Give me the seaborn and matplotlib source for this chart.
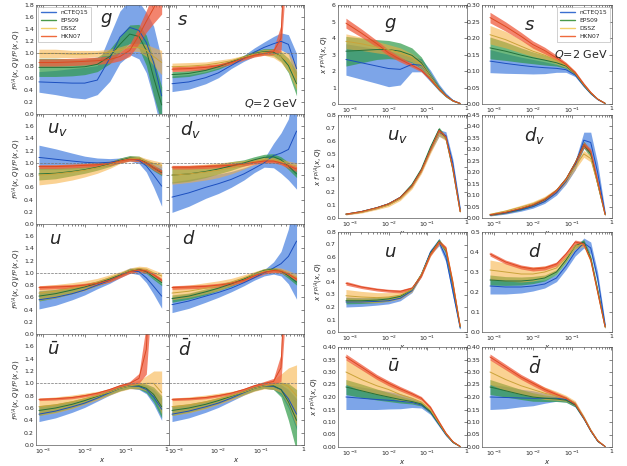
import numpy as np
import matplotlib
matplotlib.use("Agg")
import matplotlib.pyplot as plt
import seaborn as sns
from matplotlib.lines import Line2D
from matplotlib.ticker import LogLocator, NullFormatter

# x grid shared by every curve
X = [8e-4, 2e-3, 5e-3, 1e-2, 2e-2, 4e-2, 0.07, 0.12, 0.2, 0.3, 0.45, 0.7]
SETS = ["nCTEQ15", "EPS09", "DSSZ", "HKN07"]

# ---- ratio panels f^{p/A}/f^p : rows = nCTEQ15, EPS09, DSSZ, HKN07 ----
ratio_g_mid = [[0.53, 0.52, 0.51, 0.51, 0.56, 0.92, 1.27, 1.43, 1.38, 1.18, 0.85, 0.30],
               [0.77, 0.77, 0.77, 0.78, 0.82, 0.95, 1.15, 1.32, 1.28, 1.05, 0.60, 0.15],
               [1.00, 1.00, 0.99, 0.99, 1.00, 1.02, 1.06, 1.10, 1.10, 1.05, 0.95, 0.85],
               [0.85, 0.85, 0.86, 0.87, 0.88, 0.90, 0.95, 1.05, 1.30, 1.53, 1.75, 2.00]]
ratio_g_err = [[0.17, 0.20, 0.24, 0.26, 0.24, 0.38, 0.43, 0.45, 0.47, 0.50, 0.60, 0.60],
               [0.15, 0.15, 0.14, 0.13, 0.12, 0.12, 0.13, 0.15, 0.20, 0.25, 0.30, 0.30],
               [0.07, 0.07, 0.06, 0.06, 0.05, 0.05, 0.05, 0.06, 0.07, 0.10, 0.15, 0.20],
               [0.06, 0.06, 0.06, 0.06, 0.06, 0.06, 0.07, 0.10, 0.14, 0.18, 0.25, 0.35]]

ratio_s_mid = [[0.50, 0.53, 0.60, 0.68, 0.80, 0.92, 1.02, 1.10, 1.16, 1.20, 1.15, 0.75],
               [0.65, 0.67, 0.72, 0.78, 0.86, 0.94, 1.00, 1.03, 1.02, 0.95, 0.80, 0.50],
               [0.78, 0.79, 0.81, 0.84, 0.88, 0.94, 0.99, 1.02, 1.00, 0.95, 0.85, 0.60],
               [0.74, 0.75, 0.77, 0.80, 0.85, 0.92, 0.97, 1.00, 1.03, 1.25, 4.00, 6.00]]
ratio_s_err = [[0.13, 0.12, 0.10, 0.08, 0.05, 0.05, 0.07, 0.09, 0.12, 0.14, 0.16, 0.25],
               [0.05, 0.05, 0.04, 0.04, 0.03, 0.03, 0.04, 0.05, 0.06, 0.08, 0.12, 0.20],
               [0.06, 0.06, 0.05, 0.05, 0.04, 0.03, 0.04, 0.05, 0.07, 0.10, 0.15, 0.20],
               [0.04, 0.04, 0.04, 0.03, 0.03, 0.03, 0.03, 0.03, 0.05, 0.22, 1.20, 1.50]]

ratio_uv_mid = [[1.09, 1.06, 1.03, 1.01, 1.00, 1.01, 1.04, 1.07, 1.04, 0.95, 0.80, 0.62],
                [0.82, 0.83, 0.86, 0.89, 0.93, 0.98, 1.04, 1.08, 1.07, 1.00, 0.92, 0.84],
                [0.80, 0.82, 0.85, 0.88, 0.92, 0.97, 1.03, 1.07, 1.07, 1.03, 0.99, 0.96],
                [0.94, 0.94, 0.95, 0.96, 0.97, 0.99, 1.03, 1.06, 1.05, 1.00, 0.92, 0.85]]
ratio_uv_err = [[0.20, 0.17, 0.13, 0.10, 0.08, 0.06, 0.04, 0.04, 0.05, 0.10, 0.20, 0.33],
                [0.10, 0.09, 0.07, 0.06, 0.05, 0.04, 0.04, 0.04, 0.04, 0.04, 0.05, 0.05],
                [0.16, 0.15, 0.13, 0.11, 0.09, 0.06, 0.04, 0.04, 0.04, 0.04, 0.05, 0.05],
                [0.03, 0.03, 0.03, 0.03, 0.03, 0.03, 0.03, 0.03, 0.03, 0.03, 0.04, 0.04]]

ratio_dv_mid = [[0.44, 0.51, 0.60, 0.66, 0.73, 0.82, 0.91, 1.00, 1.12, 1.16, 1.22, 1.52],
                [0.80, 0.82, 0.86, 0.90, 0.95, 1.00, 1.05, 1.09, 1.10, 1.05, 0.95, 0.82],
                [0.80, 0.82, 0.85, 0.88, 0.92, 0.97, 1.02, 1.05, 1.05, 1.02, 0.98, 0.95],
                [0.93, 0.93, 0.94, 0.95, 0.96, 0.98, 1.01, 1.03, 1.03, 1.00, 0.95, 0.90]]
ratio_dv_err = [[0.25, 0.22, 0.18, 0.16, 0.13, 0.10, 0.07, 0.07, 0.20, 0.33, 0.50, 0.95],
                [0.13, 0.12, 0.10, 0.08, 0.07, 0.05, 0.05, 0.05, 0.05, 0.05, 0.06, 0.06],
                [0.15, 0.14, 0.13, 0.12, 0.10, 0.07, 0.05, 0.04, 0.04, 0.04, 0.05, 0.05],
                [0.03, 0.03, 0.03, 0.03, 0.03, 0.03, 0.03, 0.03, 0.03, 0.03, 0.04, 0.04]]

ratio_u_mid = [[0.56, 0.60, 0.66, 0.72, 0.80, 0.88, 0.96, 1.04, 1.02, 0.92, 0.78, 0.62],
               [0.62, 0.66, 0.72, 0.77, 0.83, 0.90, 0.97, 1.04, 1.06, 1.02, 0.93, 0.84],
               [0.67, 0.70, 0.75, 0.79, 0.85, 0.92, 0.98, 1.04, 1.07, 1.06, 1.00, 0.95],
               [0.76, 0.77, 0.78, 0.80, 0.83, 0.88, 0.95, 1.02, 1.05, 1.03, 0.97, 0.88]]
ratio_u_err = [[0.15, 0.13, 0.10, 0.08, 0.06, 0.05, 0.04, 0.04, 0.05, 0.08, 0.13, 0.20],
               [0.08, 0.07, 0.06, 0.05, 0.04, 0.04, 0.03, 0.03, 0.03, 0.03, 0.04, 0.05],
               [0.12, 0.11, 0.09, 0.08, 0.06, 0.05, 0.04, 0.04, 0.04, 0.04, 0.05, 0.05],
               [0.03, 0.03, 0.03, 0.03, 0.03, 0.03, 0.03, 0.03, 0.03, 0.03, 0.03, 0.03]]

ratio_d_mid = [[0.48, 0.54, 0.62, 0.68, 0.75, 0.84, 0.92, 1.00, 1.08, 1.15, 1.27, 1.52],
               [0.58, 0.62, 0.69, 0.75, 0.82, 0.90, 0.98, 1.04, 1.06, 1.03, 0.95, 0.85],
               [0.67, 0.70, 0.75, 0.79, 0.85, 0.92, 0.98, 1.03, 1.05, 1.04, 0.99, 0.93],
               [0.76, 0.77, 0.78, 0.80, 0.83, 0.88, 0.95, 1.01, 1.04, 1.03, 0.98, 0.90]]
ratio_d_err = [[0.13, 0.12, 0.10, 0.08, 0.06, 0.05, 0.04, 0.05, 0.10, 0.20, 0.45, 0.95],
               [0.06, 0.05, 0.05, 0.04, 0.04, 0.03, 0.03, 0.03, 0.03, 0.03, 0.04, 0.05],
               [0.11, 0.10, 0.09, 0.08, 0.06, 0.05, 0.04, 0.04, 0.04, 0.04, 0.05, 0.05],
               [0.03, 0.03, 0.03, 0.03, 0.03, 0.03, 0.03, 0.03, 0.03, 0.03, 0.03, 0.03]]

ratio_ub_mid = [[0.50, 0.55, 0.62, 0.68, 0.76, 0.85, 0.92, 0.96, 0.95, 0.90, 0.78, 0.58],
                [0.56, 0.60, 0.66, 0.72, 0.79, 0.86, 0.92, 0.96, 0.96, 0.92, 0.82, 0.62],
                [0.62, 0.65, 0.70, 0.75, 0.80, 0.86, 0.92, 0.96, 0.98, 1.00, 1.00, 0.85],
                [0.74, 0.75, 0.77, 0.80, 0.84, 0.90, 0.96, 1.00, 1.08, 1.55, 4.00, 6.00]]
ratio_ub_err = [[0.12, 0.11, 0.09, 0.07, 0.05, 0.04, 0.04, 0.04, 0.05, 0.07, 0.12, 0.18],
                [0.08, 0.07, 0.06, 0.05, 0.04, 0.04, 0.04, 0.04, 0.05, 0.07, 0.12, 0.18],
                [0.14, 0.13, 0.11, 0.09, 0.07, 0.05, 0.05, 0.05, 0.07, 0.12, 0.20, 0.35],
                [0.02, 0.02, 0.02, 0.02, 0.02, 0.02, 0.02, 0.03, 0.08, 0.40, 1.20, 1.50]]

ratio_db_mid = [[0.50, 0.55, 0.62, 0.68, 0.76, 0.85, 0.92, 0.96, 0.95, 0.90, 0.75, 0.50],
                [0.56, 0.60, 0.66, 0.72, 0.79, 0.86, 0.92, 0.96, 0.96, 0.90, 0.70, 0.40],
                [0.62, 0.65, 0.70, 0.75, 0.80, 0.86, 0.92, 0.96, 0.98, 1.00, 0.95, 0.80],
                [0.74, 0.75, 0.77, 0.80, 0.84, 0.90, 0.96, 1.00, 1.03, 1.25, 4.00, 6.00]]
ratio_db_err = [[0.12, 0.11, 0.09, 0.07, 0.05, 0.04, 0.04, 0.04, 0.05, 0.08, 0.15, 0.25],
                [0.08, 0.07, 0.06, 0.05, 0.04, 0.04, 0.04, 0.04, 0.06, 0.12, 0.30, 0.50],
                [0.14, 0.13, 0.11, 0.09, 0.07, 0.05, 0.05, 0.05, 0.08, 0.15, 0.30, 0.50],
                [0.02, 0.02, 0.02, 0.02, 0.02, 0.02, 0.02, 0.03, 0.05, 0.22, 1.20, 1.50]]

# ---- x f^{p/A}(x,Q) panels ----
abs_g_mid = [[2.70, 2.50, 2.30, 2.15, 2.10, 2.40, 2.35, 1.70, 1.00, 0.55, 0.22, 0.04],
             [3.20, 3.25, 3.30, 3.30, 3.20, 2.95, 2.50, 1.65, 0.95, 0.50, 0.20, 0.03],
             [3.80, 3.65, 3.45, 3.30, 3.10, 2.80, 2.40, 1.65, 0.95, 0.50, 0.20, 0.03],
             [4.90, 4.30, 3.65, 3.10, 2.70, 2.35, 2.05, 1.50, 0.90, 0.50, 0.20, 0.03]]
abs_g_err = [[0.95, 1.00, 1.05, 1.10, 0.95, 0.45, 0.40, 0.35, 0.20, 0.12, 0.06, 0.02],
             [0.90, 0.75, 0.60, 0.55, 0.50, 0.45, 0.35, 0.25, 0.15, 0.08, 0.04, 0.02],
             [0.45, 0.40, 0.35, 0.30, 0.30, 0.25, 0.20, 0.15, 0.10, 0.06, 0.03, 0.02],
             [0.30, 0.25, 0.20, 0.18, 0.15, 0.12, 0.10, 0.08, 0.06, 0.04, 0.02, 0.01]]

abs_s_mid = [[0.130, 0.123, 0.117, 0.113, 0.110, 0.108, 0.104, 0.088, 0.055, 0.032, 0.014, 0.002],
             [0.170, 0.160, 0.148, 0.140, 0.133, 0.125, 0.115, 0.092, 0.057, 0.033, 0.015, 0.002],
             [0.210, 0.195, 0.175, 0.160, 0.148, 0.132, 0.118, 0.093, 0.058, 0.034, 0.015, 0.002],
             [0.262, 0.235, 0.205, 0.180, 0.162, 0.140, 0.120, 0.095, 0.060, 0.035, 0.015, 0.002]]
abs_s_err = [[0.035, 0.030, 0.025, 0.022, 0.018, 0.012, 0.008, 0.005, 0.004, 0.003, 0.002, 0.001],
             [0.033, 0.028, 0.022, 0.018, 0.015, 0.010, 0.007, 0.005, 0.004, 0.003, 0.002, 0.001],
             [0.028, 0.025, 0.020, 0.016, 0.013, 0.010, 0.008, 0.006, 0.004, 0.003, 0.002, 0.001],
             [0.016, 0.014, 0.012, 0.011, 0.010, 0.008, 0.006, 0.005, 0.004, 0.003, 0.002, 0.001]]

abs_uv_mid = [[0.030, 0.050, 0.080, 0.110, 0.160, 0.250, 0.370, 0.530, 0.660, 0.640, 0.430, 0.070],
              [0.030, 0.050, 0.080, 0.110, 0.160, 0.260, 0.380, 0.550, 0.690, 0.620, 0.380, 0.050],
              [0.030, 0.045, 0.075, 0.100, 0.150, 0.240, 0.360, 0.520, 0.660, 0.620, 0.390, 0.050],
              [0.030, 0.050, 0.080, 0.110, 0.160, 0.250, 0.370, 0.530, 0.680, 0.630, 0.390, 0.050]]
abs_uv_err = [[0.005, 0.006, 0.008, 0.008, 0.010, 0.010, 0.012, 0.015, 0.025, 0.030, 0.030, 0.015],
              [0.004, 0.005, 0.006, 0.007, 0.008, 0.008, 0.010, 0.012, 0.015, 0.015, 0.015, 0.010],
              [0.006, 0.007, 0.010, 0.012, 0.014, 0.015, 0.016, 0.020, 0.025, 0.020, 0.020, 0.010],
              [0.004, 0.005, 0.006, 0.006, 0.008, 0.008, 0.010, 0.010, 0.012, 0.012, 0.012, 0.008]]

abs_dv_mid = [[0.013, 0.022, 0.036, 0.050, 0.072, 0.110, 0.160, 0.230, 0.340, 0.330, 0.200, 0.020],
              [0.013, 0.024, 0.040, 0.056, 0.080, 0.120, 0.170, 0.240, 0.320, 0.280, 0.150, 0.015],
              [0.016, 0.030, 0.048, 0.063, 0.085, 0.120, 0.165, 0.225, 0.280, 0.260, 0.150, 0.015],
              [0.014, 0.025, 0.042, 0.058, 0.082, 0.120, 0.170, 0.240, 0.320, 0.290, 0.160, 0.015]]
abs_dv_err = [[0.004, 0.005, 0.006, 0.007, 0.008, 0.010, 0.012, 0.020, 0.035, 0.045, 0.040, 0.010],
              [0.003, 0.004, 0.005, 0.006, 0.007, 0.008, 0.010, 0.012, 0.015, 0.015, 0.012, 0.005],
              [0.004, 0.006, 0.008, 0.009, 0.010, 0.010, 0.012, 0.014, 0.015, 0.015, 0.012, 0.005],
              [0.003, 0.004, 0.005, 0.005, 0.006, 0.007, 0.008, 0.010, 0.012, 0.012, 0.010, 0.005]]

abs_u_mid = [[0.240, 0.240, 0.245, 0.250, 0.270, 0.330, 0.460, 0.640, 0.720, 0.600, 0.330, 0.030],
             [0.250, 0.250, 0.255, 0.265, 0.285, 0.340, 0.460, 0.630, 0.730, 0.650, 0.380, 0.040],
             [0.290, 0.280, 0.275, 0.280, 0.295, 0.340, 0.460, 0.620, 0.720, 0.660, 0.400, 0.045],
             [0.390, 0.360, 0.340, 0.330, 0.325, 0.350, 0.450, 0.620, 0.720, 0.670, 0.400, 0.045]]
abs_u_err = [[0.040, 0.035, 0.030, 0.025, 0.020, 0.015, 0.015, 0.020, 0.030, 0.040, 0.040, 0.010],
             [0.025, 0.022, 0.020, 0.018, 0.015, 0.012, 0.012, 0.012, 0.015, 0.015, 0.015, 0.010],
             [0.050, 0.045, 0.040, 0.035, 0.030, 0.020, 0.015, 0.015, 0.020, 0.020, 0.020, 0.010],
             [0.015, 0.012, 0.012, 0.012, 0.012, 0.012, 0.012, 0.012, 0.015, 0.015, 0.012, 0.008]]

abs_d_mid = [[0.230, 0.225, 0.225, 0.230, 0.240, 0.270, 0.330, 0.400, 0.445, 0.420, 0.270, 0.035],
             [0.260, 0.255, 0.255, 0.260, 0.270, 0.300, 0.360, 0.430, 0.450, 0.370, 0.210, 0.025],
             [0.310, 0.300, 0.290, 0.290, 0.300, 0.320, 0.370, 0.430, 0.440, 0.360, 0.200, 0.025],
             [0.390, 0.350, 0.325, 0.315, 0.320, 0.340, 0.390, 0.450, 0.440, 0.360, 0.200, 0.025]]
abs_d_err = [[0.040, 0.035, 0.030, 0.025, 0.020, 0.018, 0.018, 0.020, 0.025, 0.030, 0.030, 0.010],
             [0.025, 0.022, 0.020, 0.018, 0.015, 0.012, 0.012, 0.012, 0.012, 0.012, 0.012, 0.008],
             [0.050, 0.045, 0.040, 0.035, 0.030, 0.020, 0.015, 0.015, 0.015, 0.015, 0.012, 0.008],
             [0.010, 0.010, 0.010, 0.010, 0.010, 0.010, 0.010, 0.010, 0.010, 0.010, 0.010, 0.006]]

abs_ub_mid = [[0.200, 0.195, 0.190, 0.187, 0.183, 0.178, 0.168, 0.140, 0.090, 0.050, 0.020, 0.002],
              [0.240, 0.225, 0.210, 0.200, 0.190, 0.182, 0.172, 0.142, 0.092, 0.052, 0.020, 0.002],
              [0.300, 0.270, 0.245, 0.230, 0.210, 0.195, 0.180, 0.148, 0.095, 0.053, 0.021, 0.002],
              [0.360, 0.320, 0.280, 0.255, 0.233, 0.213, 0.195, 0.158, 0.100, 0.055, 0.022, 0.002]]
abs_ub_err = [[0.050, 0.045, 0.040, 0.035, 0.030, 0.020, 0.012, 0.010, 0.008, 0.006, 0.004, 0.001],
              [0.030, 0.027, 0.022, 0.018, 0.014, 0.010, 0.008, 0.007, 0.006, 0.005, 0.003, 0.001],
              [0.050, 0.045, 0.035, 0.030, 0.025, 0.018, 0.012, 0.010, 0.008, 0.006, 0.004, 0.001],
              [0.012, 0.011, 0.010, 0.010, 0.009, 0.008, 0.007, 0.006, 0.005, 0.004, 0.003, 0.001]]

abs_db_mid = [[0.200, 0.198, 0.196, 0.195, 0.195, 0.195, 0.190, 0.170, 0.115, 0.065, 0.024, 0.002],
              [0.240, 0.225, 0.210, 0.200, 0.195, 0.192, 0.187, 0.168, 0.115, 0.065, 0.024, 0.002],
              [0.300, 0.270, 0.245, 0.230, 0.215, 0.205, 0.195, 0.175, 0.118, 0.067, 0.026, 0.002],
              [0.360, 0.320, 0.280, 0.255, 0.230, 0.210, 0.195, 0.172, 0.116, 0.066, 0.025, 0.002]]
abs_db_err = [[0.050, 0.045, 0.035, 0.030, 0.020, 0.012, 0.010, 0.010, 0.008, 0.006, 0.004, 0.001],
              [0.030, 0.025, 0.020, 0.017, 0.013, 0.010, 0.008, 0.007, 0.006, 0.005, 0.003, 0.001],
              [0.050, 0.045, 0.035, 0.030, 0.025, 0.018, 0.012, 0.010, 0.008, 0.006, 0.004, 0.001],
              [0.012, 0.011, 0.010, 0.010, 0.009, 0.008, 0.007, 0.006, 0.005, 0.004, 0.003, 0.001]]

BAND = {"nCTEQ15": ("#5d8fe3", 0.8), "EPS09": ("#2f9a47", 0.7),
        "DSSZ": ("#f7ad3a", 0.55), "HKN07": ("#ef5b3d", 0.75)}
LINE = {"nCTEQ15": "#1c4fbf", "EPS09": "#24713a", "DSSZ": "#caa33a", "HKN07": "#dd4a22"}
LEGEND_COLORS = ["#3a6fd0", "#4a9a4a", "#f3cf6a", "#ef6a3c"]

W, H = 627, 466
sns.set_style("white")
plt.rcParams["font.family"] = ["DejaVu Sans"]
plt.rcParams["mathtext.fontset"] = "dejavusans"
fig = plt.figure(figsize=(W / 100, H / 100), dpi=100)


def px_axes(x0, x1, y0, y1):
    return fig.add_axes([x0 / W, 1 - y1 / H, (x1 - x0) / W, (y1 - y0) / H])


def draw(ax, mids, errs):
    for name, mid, err in zip(SETS, mids, errs):
        mid = np.array(mid)
        err = np.array(err)
        col, a = BAND[name]
        ax.fill_between(X, mid - err, mid + err, color=col, alpha=a, lw=0)
        sns.lineplot(x=X, y=mid, ax=ax, color=LINE[name], lw=0.7, legend=False)


def style_x(ax, xlim, labels, one_right=False):
    ax.set_xscale("log")
    ax.set_xlim(*xlim)
    ax.set_xticks([1e-3, 1e-2, 1e-1, 1])
    ax.xaxis.set_minor_locator(LogLocator(base=10, subs=np.arange(2, 10)))
    ax.xaxis.set_minor_formatter(NullFormatter())
    if labels:
        ax.set_xticklabels([r"$10^{-3}$", r"$10^{-2}$", r"$10^{-1}$", "1"])
        ax.set_xlabel(r"$x$", fontsize=5, labelpad=0)
        if one_right:
            ax.get_xticklabels()[-1].set_horizontalalignment("right")
    else:
        ax.set_xticklabels([])
    ax.tick_params(which="both", direction="in", top=True, right=True,
                   labelsize=4.5, width=0.4, pad=1.5)
    ax.tick_params(which="major", length=2.5)
    ax.tick_params(which="minor", length=1.2)
    for sp in ax.spines.values():
        sp.set_linewidth(0.5)
        sp.set_color("0.35")


def add_legend(ax, loc):
    handles = [Line2D([], [], color=col, lw=1.0) for col in LEGEND_COLORS]
    leg = ax.legend(handles, SETS, loc=loc, fontsize=4.3, frameon=True,
                    handlelength=2.5, borderpad=0.5, labelspacing=0.5,
                    borderaxespad=0.3, fancybox=False, edgecolor="0.6")
    leg.get_frame().set_linewidth(0.4)


# ---------- left block: ratios ----------
left_cols = [(36, 169), (169, 304)]
left_rows = [(5, 114), (114, 224), (224, 334), (334, 445)]
ratio_panels = [
    [(r"$g$", ratio_g_mid, ratio_g_err, 0.48), (r"$s$", ratio_s_mid, ratio_s_err, 0.06)],
    [(r"$u_v$", ratio_uv_mid, ratio_uv_err, 0.08), (r"$d_v$", ratio_dv_mid, ratio_dv_err, 0.08)],
    [(r"$u$", ratio_u_mid, ratio_u_err, 0.1), (r"$d$", ratio_d_mid, ratio_d_err, 0.1)],
    [(r"$\bar{u}$", ratio_ub_mid, ratio_ub_err, 0.08), (r"$\bar{d}$", ratio_db_mid, ratio_db_err, 0.07)],
]
for r, (y0, y1) in enumerate(left_rows):
    for c, (x0, x1) in enumerate(left_cols):
        label, mids, errs, tx = ratio_panels[r][c]
        ax = px_axes(x0, x1, y0, y1)
        draw(ax, mids, errs)
        ax.axhline(1.0, ls="--", color="0.45", lw=0.5)
        style_x(ax, (6.8e-4, 1.05), r == 3, one_right=(c == 0))
        ax.set_ylim(0, 1.8)
        top = 1.81 if r == 0 else 1.61
        ax.set_yticks(np.arange(0, top, 0.2))
        if c == 0:
            ax.set_yticklabels([f"{v:.1f}" for v in np.arange(0, top, 0.2)])
            ax.set_ylabel(r"$f^{\,p/A}(x,Q)/f^{\,p}(x,Q)$", fontsize=5, labelpad=1)
        else:
            ax.set_yticklabels([])
        ax.text(tx, 0.86, label, transform=ax.transAxes, fontsize=13,
                ha="left", va="center")
        if r == 0 and c == 0:
            add_legend(ax, "upper left")
        if r == 0 and c == 1:
            ax.text(0.95, 0.1, r"$Q$=2 GeV", transform=ax.transAxes,
                    fontsize=8, ha="right", va="center")

# ---------- right block: x f(x,Q) ----------
right_cols = [(338, 467), (482, 612)]
right_rows = [(5, 104), (115, 218), (232, 332), (347, 447)]
abs_panels = [
    [(r"$g$", abs_g_mid, abs_g_err, 6, 1, 0.36, "{:.0f}"),
     (r"$s$", abs_s_mid, abs_s_err, 0.30, 0.05, 0.32, "{:.2f}")],
    [(r"$u_v$", abs_uv_mid, abs_uv_err, 0.8, 0.1, 0.38, "{:.1f}"),
     (r"$d_v$", abs_dv_mid, abs_dv_err, 0.45, 0.05, 0.32, "{:.2f}")],
    [(r"$u$", abs_u_mid, abs_u_err, 0.8, 0.1, 0.36, "{:.1f}"),
     (r"$d$", abs_d_mid, abs_d_err, 0.5, 0.1, 0.35, "{:.1f}")],
    [(r"$\bar{u}$", abs_ub_mid, abs_ub_err, 0.40, 0.05, 0.38, "{:.2f}"),
     (r"$\bar{d}$", abs_db_mid, abs_db_err, 0.40, 0.05, 0.35, "{:.2f}")],
]
for r, (y0, y1) in enumerate(right_rows):
    for c, (x0, x1) in enumerate(right_cols):
        label, mids, errs, ymax, step, tx, fmt = abs_panels[r][c]
        ax = px_axes(x0, x1, y0, y1)
        draw(ax, mids, errs)
        style_x(ax, (5e-4, 1.05), True)
        ax.set_ylim(0, ymax)
        ticks = np.arange(0, ymax + step / 2, step)
        ax.set_yticks(ticks)
        ax.set_yticklabels([fmt.format(v) for v in ticks])
        if c == 0:
            ax.set_ylabel(r"$x\ f^{\,p/A}(x,Q)$", fontsize=5, labelpad=1)
        ax.text(tx, 0.8, label, transform=ax.transAxes, fontsize=13,
                ha="left", va="center")
        if r == 0 and c == 1:
            add_legend(ax, "upper right")
            ax.text(0.97, 0.5, r"$Q$=2 GeV", transform=ax.transAxes,
                    fontsize=8, ha="right", va="center")

fig.savefig("out.png", dpi=100)
